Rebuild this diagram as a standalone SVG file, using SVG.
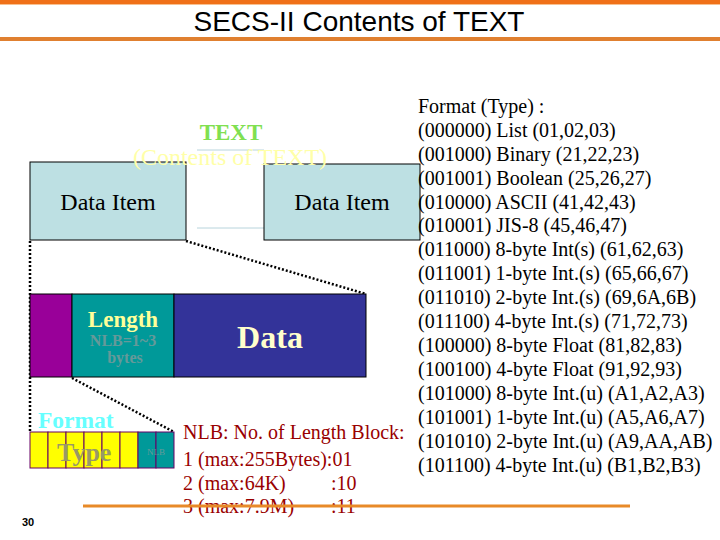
<svg xmlns="http://www.w3.org/2000/svg" width="720" height="540" viewBox="0 0 720 540">
<style>
.serif{font-family:"Liberation Serif","Times New Roman",serif}
.sans{font-family:"Liberation Sans",Arial,sans-serif}
.dot{stroke:#000;stroke-width:2.5;stroke-dasharray:2 2;fill:none}
.cell{stroke:#660066;stroke-width:1}
.list{font-family:"Liberation Serif","Times New Roman",serif;font-size:20px;fill:#000}
.nlb{font-family:"Liberation Serif","Times New Roman",serif;font-size:20px;fill:#990000}
</style>
<rect width="720" height="540" fill="#fff"/>
<g id="title">
<rect x="0" y="0" width="720" height="4" fill="#f07018"/>
<rect x="0" y="4" width="720" height="1" fill="#f8c090"/>
<rect x="0" y="37" width="720" height="4" fill="#e08030"/>
<text x="359" y="31" text-anchor="middle" class="sans" font-size="28" fill="#000">SECS-II Contents of TEXT</text>
</g>
<g id="connectors">
<line x1="197" y1="150" x2="264" y2="150" stroke="#b8d4dc" stroke-width="1"/>
<line x1="197" y1="228" x2="264" y2="228" stroke="#b8d4dc" stroke-width="1"/>
<line class="dot" x1="30" y1="241" x2="30" y2="432"/>
<line class="dot" x1="186" y1="241" x2="366" y2="294"/>
<line class="dot" x1="72" y1="378" x2="174" y2="432"/>
</g>
<g id="item1">
<rect x="30" y="162" width="156" height="78" fill="#bde0e3" stroke="#000" stroke-width="1"/>
<text x="108" y="210" text-anchor="middle" class="serif" font-size="24">Data Item</text>
</g>
<g id="item2">
<rect x="264" y="164" width="156" height="76" fill="#bde0e3" stroke="#000" stroke-width="1"/>
<text x="342" y="210" text-anchor="middle" class="serif" font-size="24">Data Item</text>
</g>
<g id="textlabel">
<text x="231" y="140" text-anchor="middle" class="serif" font-size="23" font-weight="bold" fill="#80e050">TEXT</text>
<text x="230" y="165" text-anchor="middle" class="serif" font-size="24" fill="#ffffa8">(Contents of TEXT)</text>
</g>
<g id="format">
<rect x="30" y="294" width="42" height="83" fill="#990099" stroke="#000" stroke-width="1"/>
</g>
<g id="length">
<rect x="72" y="294" width="102" height="83" fill="#009999" stroke="#000" stroke-width="1"/>
<text x="123" y="327" text-anchor="middle" class="serif" font-size="23" font-weight="bold" fill="#ffff99">Length</text>
<text x="123" y="346" text-anchor="middle" class="serif" font-size="16" font-weight="bold" fill="#669999">NLB=1~3</text>
<text x="125" y="363" text-anchor="middle" class="serif" font-size="16" font-weight="bold" fill="#669999">bytes</text>
</g>
<g id="data">
<rect x="174" y="294" width="192" height="83" fill="#333399" stroke="#000" stroke-width="1"/>
<text x="270" y="348" text-anchor="middle" class="serif" font-size="32" font-weight="bold" fill="#ffffcc">Data</text>
</g>
<g id="formatbyte">
<rect class="cell" x="30" y="432" width="18" height="36" fill="#ffff00"/>
<rect class="cell" x="48" y="432" width="18" height="36" fill="#ffff00"/>
<rect class="cell" x="66" y="432" width="18" height="36" fill="#ffff00"/>
<rect class="cell" x="84" y="432" width="18" height="36" fill="#ffff00"/>
<rect class="cell" x="102" y="432" width="18" height="36" fill="#ffff00"/>
<rect class="cell" x="120" y="432" width="18" height="36" fill="#ffff00"/>
<rect class="cell" x="138" y="432" width="18" height="36" fill="#009999"/>
<rect class="cell" x="156" y="432" width="18" height="36" fill="#009999"/>
<text x="38" y="428" class="serif" font-size="23.5" font-weight="bold" fill="#66ffff">Format</text>
<text x="57" y="461" class="serif" font-size="26" font-weight="bold" fill="#999966">Type</text>
<text x="156" y="455" text-anchor="middle" class="serif" font-size="9" fill="#669999">NLB</text>
</g>
<g id="nlbnote">
<text x="183" y="439" class="nlb">NLB: No. of Length Block:</text>
<text x="183" y="466" class="nlb">1 (max:255Bytes):01</text>
<text x="183" y="490" class="nlb">2 (max:64K)</text>
<text x="331" y="490" class="nlb">:10</text>
<text x="183" y="513" class="nlb">3 (max:7.9M)</text>
<text x="331" y="513" class="nlb">:11</text>
<line x1="83" y1="506" x2="630" y2="506" stroke="#e88a28" stroke-width="3"/>
</g>
<text x="22" y="526" class="sans" font-size="11" font-weight="bold" fill="#000">30</text>
<g id="typelist">
<text class="list" x="418" y="113">Format (Type) :</text>
<text class="list" x="418" y="137">(000000) List (01,02,03)</text>
<text class="list" x="418" y="161">(001000) Binary (21,22,23)</text>
<text class="list" x="418" y="185">(001001) Boolean (25,26,27)</text>
<text class="list" x="418" y="209">(010000) ASCII (41,42,43)</text>
<text class="list" x="418" y="232">(010001) JIS-8 (45,46,47)</text>
<text class="list" x="418" y="256">(011000) 8-byte Int(s) (61,62,63)</text>
<text class="list" x="418" y="280">(011001) 1-byte Int.(s) (65,66,67)</text>
<text class="list" x="418" y="304">(011010) 2-byte Int.(s) (69,6A,6B)</text>
<text class="list" x="418" y="328">(011100) 4-byte Int.(s) (71,72,73)</text>
<text class="list" x="418" y="352">(100000) 8-byte Float (81,82,83)</text>
<text class="list" x="418" y="376">(100100) 4-byte Float (91,92,93)</text>
<text class="list" x="418" y="400">(101000) 8-byte Int.(u) (A1,A2,A3)</text>
<text class="list" x="418" y="424">(101001) 1-byte Int.(u) (A5,A6,A7)</text>
<text class="list" x="418" y="448">(101010) 2-byte Int.(u) (A9,AA,AB)</text>
<text class="list" x="418" y="472">(101100) 4-byte Int.(u) (B1,B2,B3)</text>
</g>
</svg>
